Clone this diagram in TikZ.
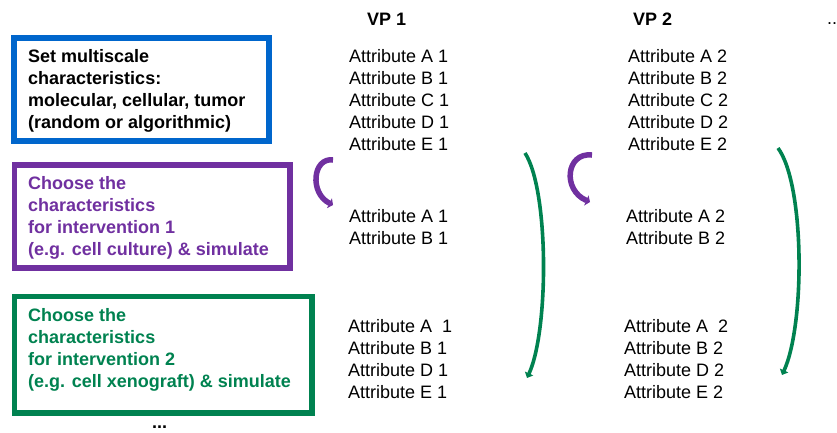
\documentclass[tikz,border=0pt]{standalone}
\usepackage{fontspec}
\setmainfont{Liberation Sans}
\usetikzlibrary{arrows.meta}

\definecolor{vpblue}{RGB}{0,102,204}
\definecolor{vppurple}{RGB}{112,48,160}
\definecolor{vpgreen}{RGB}{0,130,80}

\begin{document}
\begin{tikzpicture}[x=1pt,y=-1pt,
    every node/.style={inner sep=0pt, align=left, anchor=base west,
      font=\fontsize{18}{22}\selectfont},
    boxtext/.style={font=\fontsize{18}{22}\selectfont\bfseries},
    stagebox/.style={line width=5.5pt},
    refine/.style={vppurple, line width=5.5pt,
      -{Triangle[length=4pt,width=11pt]}},
    carry/.style={vpgreen, line width=3.6pt,
      -{Triangle[length=5pt,width=9pt]}}]
    \useasboundingbox (0,0) rectangle (837,432);
    % stage boxes (nodes sit on the baseline of their last line)
    \draw [stagebox, vpblue] (14,38) rectangle (269,141);
    \node [boxtext] (setchar) at (28,128) {Set multiscale\\characteristics:\\molecular, cellular, tumor\\(random or algorithmic)};
    \draw [stagebox, vppurple] (14.5,165) rectangle (290,268);
    \node [boxtext, vppurple] (inter1) at (28,255) {Choose the\\characteristics\\for intervention 1\\(e.g. cell culture) \& simulate};
    \draw [stagebox, vpgreen] (14.5,296.5) rectangle (312,413);
    \node [boxtext, vpgreen] (inter2) at (28,387) {Choose the\\characteristics\\for intervention 2\\(e.g. cell xenograft) \& simulate};
    \node [boxtext] (moresteps) at (152,428) {...};
    % virtual patient 1
    \node [boxtext] (vp1) at (367,25) {VP 1};
    \node (vp1set) at (349,150) {Attribute A 1\\Attribute B 1\\Attribute C 1\\Attribute D 1\\Attribute E 1};
    \node (vp1inter1) at (349,244) {Attribute A 1\\Attribute B 1};
    \node (vp1inter2) at (348,398) {Attribute A \ 1\\Attribute B 1\\Attribute D 1\\Attribute E 1};
    % virtual patient 2
    \node [boxtext] (vp2) at (633,25) {VP 2};
    \node (vp2set) at (628,150) {Attribute A 2\\Attribute B 2\\Attribute C 2\\Attribute D 2\\Attribute E 2};
    \node (vp2inter1) at (626,244) {Attribute A 2\\Attribute B 2};
    \node (vp2inter2) at (624,398) {Attribute A \ 2\\Attribute B 2\\Attribute D 2\\Attribute E 2};
    \node (morevp) at (827,24) {...};
    % arrows
    \coordinate (vp1r0) at (333,160);
    \coordinate (vp1r1) at (333,205);
    \draw [refine] (vp1r0) .. controls (313,157) and (309,193) .. (vp1r1);
    \coordinate (vp2r0) at (592,155);
    \coordinate (vp2r1) at (590,202);
    \draw [refine] (vp2r0) .. controls (566,152) and (562,190) .. (vp2r1);
    \coordinate (vp1c0) at (525,153);
    \coordinate (vp1c1) at (527,378);
    \draw [carry] (vp1c0) .. controls (549,190) and (549,330) .. (vp1c1);
    \coordinate (vp2c0) at (778,148);
    \coordinate (vp2c1) at (782,375);
    \draw [carry] (vp2c0) .. controls (805,185) and (805,325) .. (vp2c1);
\end{tikzpicture}
\end{document}
